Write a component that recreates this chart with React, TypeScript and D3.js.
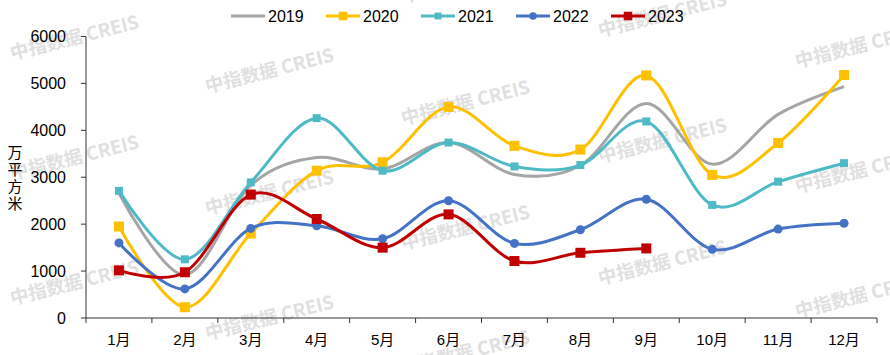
import React from "react";
import * as d3 from "d3";

const months = ["1月", "2月", "3月", "4月", "5月", "6月", "7月", "8月", "9月", "10月", "11月", "12月"];
const yTicks = [0, 1000, 2000, 3000, 4000, 5000, 6000];

const s2019 = [2660, 920, 2830, 3420, 3180, 3740, 3060, 3250, 4570, 3280, 4340, 4930];
const s2020 = [1950, 230, 1800, 3140, 3320, 4500, 3670, 3590, 5170, 3050, 3730, 5180];
const s2021 = [2710, 1250, 2890, 4260, 3140, 3740, 3230, 3260, 4190, 2410, 2906, 3300];
const s2022 = [1600, 620, 1910, 1966, 1690, 2500, 1590, 1880, 2530, 1465, 1895, 2020];
const s2023 = [1015, 975, 2630, 2110, 1500, 2209, 1215, 1390, 1483];

const seriesNames = ["2019", "2020", "2021", "2022", "2023"];
const seriesColors = ["#A5A5A5", "#FFC000", "#4DBAC6", "#4472C4", "#C00000"];
const seriesMarkers = ["none", "square", "square", "circle", "square"];
const markerSizes = [0, 10, 8, 9, 10];

const yLabel = "万平方米";

const watermarks: [number, number, string][] = [
  [12, 60, "中指数据 CREIS"], [12, 180, "中指数据 CREIS"], [12, 305, "中指数据 CREIS"],
  [207, 93, "中指数据 CREIS"], [207, 215, "中指数据 CREIS"], [207, 340, "中指数据 CREIS"],
  [403, 3, "中指数据 CREIS"], [403, 125, "中指数据 CREIS"], [403, 250, "中指数据 CREIS"], [403, 375, "中指数据 CREIS"],
  [600, 37, "中指数据 CREIS"], [600, 163, "中指数据 CREIS"], [600, 285, "中指数据 CREIS"],
  [797, 68, "中指数据 CREIS"], [797, 193, "中指数据 CREIS"], [797, 318, "中指数据 CREIS"],
];

export default function App() {
  const W = 890, H = 355;
  const left = 86, right = 877, top = 36.5, bottom = 318;
  const x = d3.scaleBand<string>().domain(months).range([left, right]);
  const y = d3.scaleLinear().domain([0, 6000]).range([bottom, top]);
  const allSeries = [s2019, s2020, s2021, s2022, s2023];
  const line = d3
    .line<number>()
    .x((_, i) => (x(months[i]) as number) + x.bandwidth() / 2)
    .y((v) => y(v))
    .curve(d3.curveCardinal.tension(0));

  const font = "'Liberation Sans', Arial, 'Noto Sans CJK SC', sans-serif";
  const legendX = [231, 326, 421, 516, 611];

  const marker = (kind: string, cx: number, cy: number, size: number, color: string, key: string) => {
    if (kind === "square")
      return <rect key={key} x={cx - size / 2} y={cy - size / 2} width={size} height={size} fill={color} />;
    if (kind === "circle") return <circle key={key} cx={cx} cy={cy} r={size / 2} fill={color} />;
    return null;
  };

  return (
    <svg width={W} height={H} style={{ position: "absolute", left: 0, top: 0, background: "#fff" }}>
      <rect x={0} y={0} width={W} height={H} fill="#fff" />
      {/* watermarks */}
      <g fill="#e0e0e0" fontFamily="'Noto Sans CJK SC', sans-serif" fontWeight="bold" fontSize={18.5}>
        {watermarks.map(([wx, wy, t], i) => (
          <text key={i} x={wx} y={wy} transform={`rotate(-14 ${wx} ${wy})`}>
            {t}
          </text>
        ))}
      </g>
      {/* y axis */}
      <line x1={left} x2={left} y1={top} y2={bottom} stroke="#333" strokeWidth={1} />
      {yTicks.map((t) => (
        <g key={t}>
          <line x1={left - 5} x2={left} y1={y(t)} y2={y(t)} stroke="#333" />
          <text x={66} y={y(t)} dy="0.35em" textAnchor="end" fontFamily={font} fontSize={16} fill="#000">
            {t}
          </text>
        </g>
      ))}
      {/* x axis */}
      <line x1={left} x2={right} y1={bottom} y2={bottom} stroke="#333" />
      {months.map((m, i) => (
        <line key={"t" + i} x1={x(m) as number} x2={x(m) as number} y1={bottom} y2={bottom + 5} stroke="#333" />
      ))}
      <line x1={right} x2={right} y1={bottom} y2={bottom + 5} stroke="#333" />
      {months.map((m) => (
        <text
          key={m}
          x={(x(m) as number) + x.bandwidth() / 2}
          y={345}
          textAnchor="middle"
          fontFamily={font}
          fontSize={15}
          fill="#000"
        >
          {m}
        </text>
      ))}
      {/* y label (vertical) */}
      <text
        x={15}
        y={145}
        fontFamily="'Noto Sans CJK SC', sans-serif"
        fontSize={15}
        letterSpacing={2}
        fill="#000"
        style={{ writingMode: "vertical-rl", textOrientation: "upright" } as React.CSSProperties}
      >
        {yLabel}
      </text>
      {/* series */}
      {allSeries.map((s, si) => (
        <g key={si}>
          <path d={line(s) as string} fill="none" stroke={seriesColors[si]} strokeWidth={3} strokeLinejoin="round" />
          {s.map((v, i) =>
            marker(
              seriesMarkers[si],
              (x(months[i]) as number) + x.bandwidth() / 2,
              y(v),
              markerSizes[si],
              seriesColors[si],
              `m${si}-${i}`
            )
          )}
        </g>
      ))}
      {/* legend */}
      {seriesNames.map((n, i) => (
        <g key={n}>
          <line x1={legendX[i]} x2={legendX[i] + 34} y1={16} y2={16} stroke={seriesColors[i]} strokeWidth={3} />
          {marker(seriesMarkers[i], legendX[i] + 17, 16, markerSizes[i] * 0.85, seriesColors[i], "lg" + i)}
          <text x={legendX[i] + 37} y={16} dy="0.35em" fontFamily={font} fontSize={16} fill="#000">
            {n}
          </text>
        </g>
      ))}
    </svg>
  );
}
